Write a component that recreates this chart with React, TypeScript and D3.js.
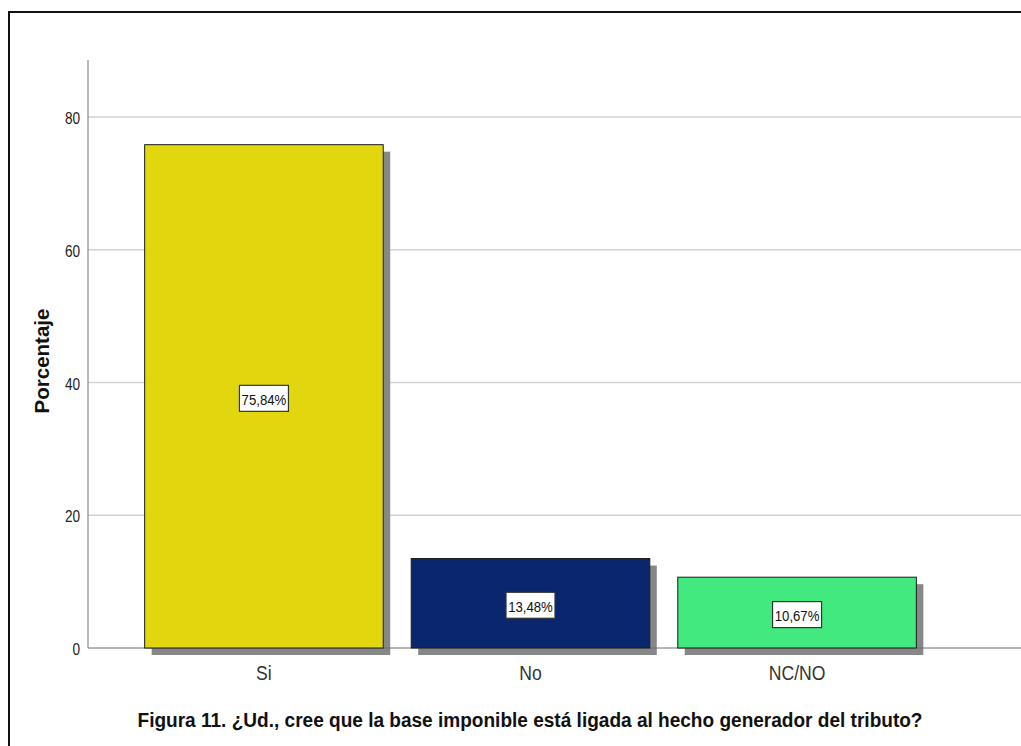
import React from "react";
import * as d3 from "d3";

const categories = ["Si", "No", "NC/NO"];
const percentages = [75.84, 13.48, 10.67];
const barColors = ["#e2d70f", "#0a266c", "#41e97e"];
const yTicks = [0, 20, 40, 60, 80];
const yTitle = "Porcentaje";
const caption = "Figura 11. ¿Ud., cree que la base imponible está ligada al hecho generador del tributo?";

const W = 1021;
const H = 746;
const axisX = 88;
const baseY = 648;
const topY = 60;
const sans = "'Liberation Sans', Arial, sans-serif";

// condensed text: regular sans squeezed horizontally
function NarrowText(props: {
  x: number; y: number; size: number; anchor?: string; fill?: string; weight?: string; sx?: number; children: React.ReactNode;
}) {
  const { x, y, size, anchor = "middle", fill = "#222", weight = "normal", sx = 0.82, children } = props;
  return (
    <text transform={`translate(${x},${y}) scale(${sx},1)`} textAnchor={anchor} dominantBaseline="central"
      fontFamily={sans} fontSize={size} fontWeight={weight} fill={fill}>{children}</text>
  );
}

export default function App() {
  const y = d3.scaleLinear().domain([0, 88.6]).range([baseY, topY]);
  const x = d3.scaleBand<string>().domain(categories).range([118, 943]).paddingInner(0.105).paddingOuter(0.1);
  const shadow = 7;

  return (
    <svg width={W} height={H} style={{ position: "fixed", left: 0, top: 0, background: "#fff" }}>
      {/* frame */}
      <rect x={9} y={12} width={W + 10} height={H + 10} fill="none" stroke="#111" strokeWidth={2} />

      {/* gridlines */}
      {yTicks.filter((t) => t > 0).map((t) => (
        <line key={t} x1={axisX} x2={W} y1={y(t)} y2={y(t)} stroke="#d2d2d2" strokeWidth={1.5} />
      ))}

      {/* bar shadows */}
      {percentages.map((v, i) => (
        <rect key={"s" + i} x={x(categories[i])! + shadow} y={y(v) + shadow}
          width={x.bandwidth()} height={baseY - y(v)} fill="#878787" />
      ))}

      {/* baseline and y axis */}
      <line x1={axisX} x2={W} y1={baseY} y2={baseY} stroke="#6e6e6e" strokeWidth={1.2} />
      <line x1={axisX} x2={axisX} y1={topY} y2={baseY} stroke="#8a8a8a" strokeWidth={1.2} />

      {/* bars */}
      {percentages.map((v, i) => (
        <rect key={"b" + i} x={x(categories[i])!} y={y(v)} width={x.bandwidth()} height={baseY - y(v)}
          fill={barColors[i]} stroke="#1a1a1a" strokeWidth={1} />
      ))}

      {/* value labels */}
      {percentages.map((v, i) => {
        const cx = x(categories[i])! + x.bandwidth() / 2;
        const cy = (y(v) + baseY) / 2 + 2;
        const label = v.toFixed(2).replace(".", ",") + "%";
        return (
          <g key={"l" + i}>
            <rect x={cx - 24.5} y={cy - 13} width={49} height={26} fill="#fff" stroke="#333" strokeWidth={1.2} />
            <NarrowText x={cx} y={cy + 1} size={15.5} sx={0.85} fill="#111">{label}</NarrowText>
          </g>
        );
      })}

      {/* y tick labels */}
      {yTicks.map((t) => (
        <NarrowText key={"t" + t} x={axisX - 8} y={y(t) + 1} size={17} sx={0.8} anchor="end" fill="#222">{t}</NarrowText>
      ))}

      {/* category labels */}
      {categories.map((c) => (
        <NarrowText key={"c" + c} x={x(c)! + x.bandwidth() / 2} y={673} size={20} sx={0.88} fill="#333">{c}</NarrowText>
      ))}

      {/* y axis title */}
      <text transform={`translate(41,361) rotate(-90)`} textAnchor="middle" dominantBaseline="central"
        fontFamily={sans} fontWeight="bold" fontSize={20.5} fill="#111">{yTitle}</text>

      {/* caption */}
      <text x={530} y={720} textAnchor="middle" dominantBaseline="central" fontFamily={sans}
        fontWeight="bold" fontSize={20} fill="#111" textLength={785} lengthAdjust="spacingAndGlyphs">{caption}</text>
    </svg>
  );
}
